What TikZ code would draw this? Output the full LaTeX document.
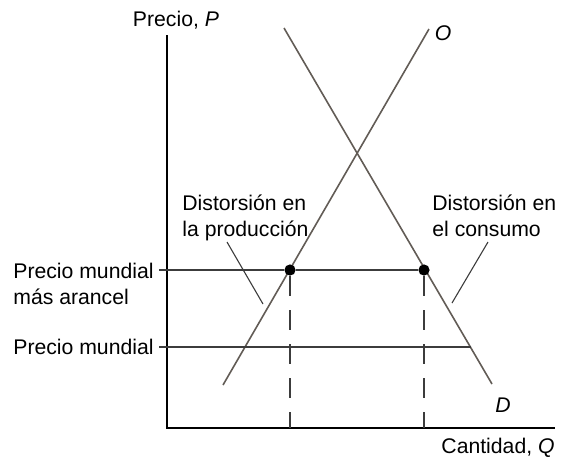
\documentclass[tikz,border=0pt]{standalone}
\usepackage{fontspec}
\setmainfont{Liberation Sans}
\usetikzlibrary{positioning}
\definecolor{curvegray}{RGB}{98,92,86}
\definecolor{levelgray}{RGB}{60,60,60}

\begin{document}
\begin{tikzpicture}
[
						x=0.5pt, y=-0.5pt,
						axis/.style = {draw, line width=1.1pt},
						curve/.style = {draw=curvegray, line width=0.8pt},
						level/.style = {draw=levelgray, line width=0.55pt},
						guide/.style = {draw=levelgray, line width=0.6pt, dash pattern=on 10pt off 7pt},
						point/.style = {circle, fill, inner sep=0pt, minimum size=5.6pt},
						lbl/.style = {font=\fontsize{10.6}{13}\selectfont, inner sep=0pt, align=left}
					]
\useasboundingbox (0,0) rectangle (563,457);
% axes
\coordinate (origin) at (167,428);
\coordinate (ytop) at (167,35);
\coordinate (xend) at (555,428);
\draw[axis] (ytop) -- (origin) -- (xend);
\node[lbl] (ylab) at (176,20) {Precio, \textit{P}};
\node[lbl, anchor=east] (xlab) at (555,448) {Cantidad, \textit{Q}};
% supply and demand
\coordinate (o1) at (223,385);
\coordinate (o2) at (429,29);
\coordinate (d1) at (284,28);
\coordinate (d2) at (492,384);
\draw[curve] (o1) -- (o2);
\draw[curve] (d1) -- (d2);
\node[lbl] (olab) at (443,33) {\textit{O}};
\node[lbl] (dlab) at (503,405) {\textit{D}};
% prices
\coordinate (ttick) at (159,270);
\coordinate (wtick) at (159,347);
\coordinate (wend) at (471,347);
\node[point] (pl) at (290,270) {};
\node[point] (pr) at (424,270) {};
\draw[level] (ttick) -- (pl) -- (pr);
\draw[level] (wtick) -- (wend);
\draw[guide] (pl.south) -- (pl |- origin);
\draw[guide] (pr.south) -- (pr |- origin);
\node[lbl, anchor=east] (tariff) at (154,284) {Precio mundial\\más arancel};
\node[lbl, anchor=east] (world) at (154,347) {Precio mundial};
% distortions
\node[lbl, anchor=north west] (prod) at (182,194) {Distorsión en\\la producción};
\node[lbl, anchor=north west] (cons) at (432,194) {Distorsión en\\el consumo};
\coordinate (p1) at (227,242);
\coordinate (p2) at (263,304);
\coordinate (c1) at (488,242);
\coordinate (c2) at (452,303);
\draw[level] (p1) -- (p2);
\draw[level] (c1) -- (c2);
\end{tikzpicture}
\end{document}
